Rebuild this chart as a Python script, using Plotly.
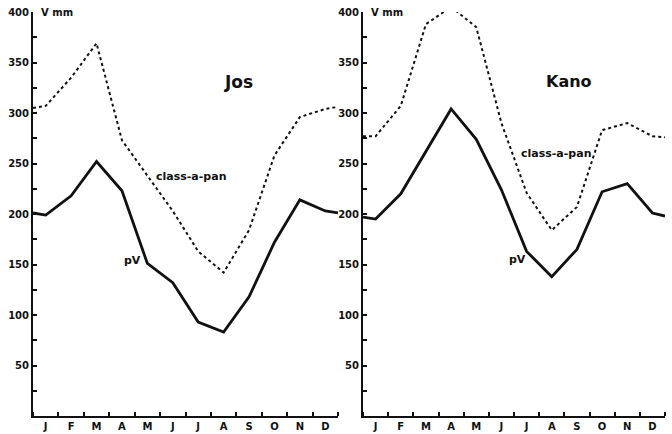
import plotly.graph_objects as go

months = ["J", "F", "M", "A", "M", "J", "J", "A", "S", "O", "N", "D"]
# x positions: axis start (0), month centres (0.5..11.5), axis end (12)
x_pos = [0] + [i + 0.5 for i in range(12)] + [12]

jos_pv = [201, 199, 218, 252, 223, 151, 132, 93, 83, 118, 172, 214, 203, 201]
jos_pan = [305, 307, 335, 369, 273, 238, 203, 163, 142, 184, 258, 296, 304, 306]
kano_pv = [197, 195, 220, 262, 304, 274, 224, 163, 138, 165, 222, 230, 201, 198]
kano_pan = [277, 277, 307, 388, 405, 385, 290, 221, 184, 207, 283, 290, 277, 276]

y_ticks = [50, 100, 150, 200, 250, 300, 350, 400]

FONT = "DejaVu Sans"
INK = "#111111"

fig = go.Figure()
for xa, ya, pv, pan in [("x", "y", jos_pv, jos_pan), ("x2", "y2", kano_pv, kano_pan)]:
    fig.add_trace(go.Scatter(x=x_pos, y=pan, mode="lines", xaxis=xa, yaxis=ya,
                             line=dict(color=INK, width=2, dash="dot"), showlegend=False,
                             cliponaxis=False))
    fig.add_trace(go.Scatter(x=x_pos, y=pv, mode="lines", xaxis=xa, yaxis=ya,
                             line=dict(color=INK, width=2.8), showlegend=False))

xcommon = dict(range=[0, 12], tickvals=[i + 0.5 for i in range(12)], ticktext=months,
               ticks="", showline=True, linecolor=INK, linewidth=2, showgrid=False,
               zeroline=False, tickfont=dict(family=FONT, size=10, color=INK, weight="bold"),
               minor=dict(ticks="inside", tick0=0, dtick=1, ticklen=4, tickcolor=INK,
                          tickwidth=1.5, showgrid=False),
               automargin=False, fixedrange=True)
ycommon = dict(range=[0, 400], tickvals=y_ticks, ticks="inside", ticklen=4, tickwidth=1.5,
               tickcolor=INK, showline=True, linecolor=INK, linewidth=2, showgrid=False,
               zeroline=False, tickfont=dict(family=FONT, size=10, color=INK, weight="bold"),
               minor=dict(ticks="inside", tick0=0, dtick=25, ticklen=4, tickcolor=INK,
                          tickwidth=1.5, showgrid=False),
               automargin=False, fixedrange=True)

fig.update_layout(
    width=672, height=434,
    margin=dict(l=33, r=7, t=12, b=18, autoexpand=False),
    paper_bgcolor="white", plot_bgcolor="white",
    xaxis=dict(domain=[0, 0.4826], anchor="y", **xcommon),
    xaxis2=dict(domain=[0.5222, 1], anchor="y2", **xcommon),
    yaxis=dict(anchor="x", **ycommon),
    yaxis2=dict(anchor="x2", **ycommon),
)

def ann(text, xref, yref, x, y, size, xanchor="center"):
    fig.add_annotation(text=text, xref=xref, yref=yref, x=x, y=y, showarrow=False,
                       xanchor=xanchor, yanchor="middle",
                       font=dict(family=FONT, size=size, color=INK, weight="bold"))

ann("V mm", "x", "y", 0.25, 400, 10, "left")
ann("V mm", "x2", "y2", 0.25, 400, 10, "left")
ann("Jos", "x", "y", 8.07, 331, 17)
ann("Kano", "x2", "y2", 8.2, 331, 16)
ann("class-a-pan", "x", "y", 6.22, 237, 11)
ann("class-a-pan", "x2", "y2", 7.7, 260, 11)
ann("pV", "x", "y", 3.9, 154, 11)
ann("pV", "x2", "y2", 6.15, 155, 11)

fig.write_html("out.html", config={"displayModeBar": False},
               post_script="document.body.style.margin='0';document.body.style.overflow='hidden';")
